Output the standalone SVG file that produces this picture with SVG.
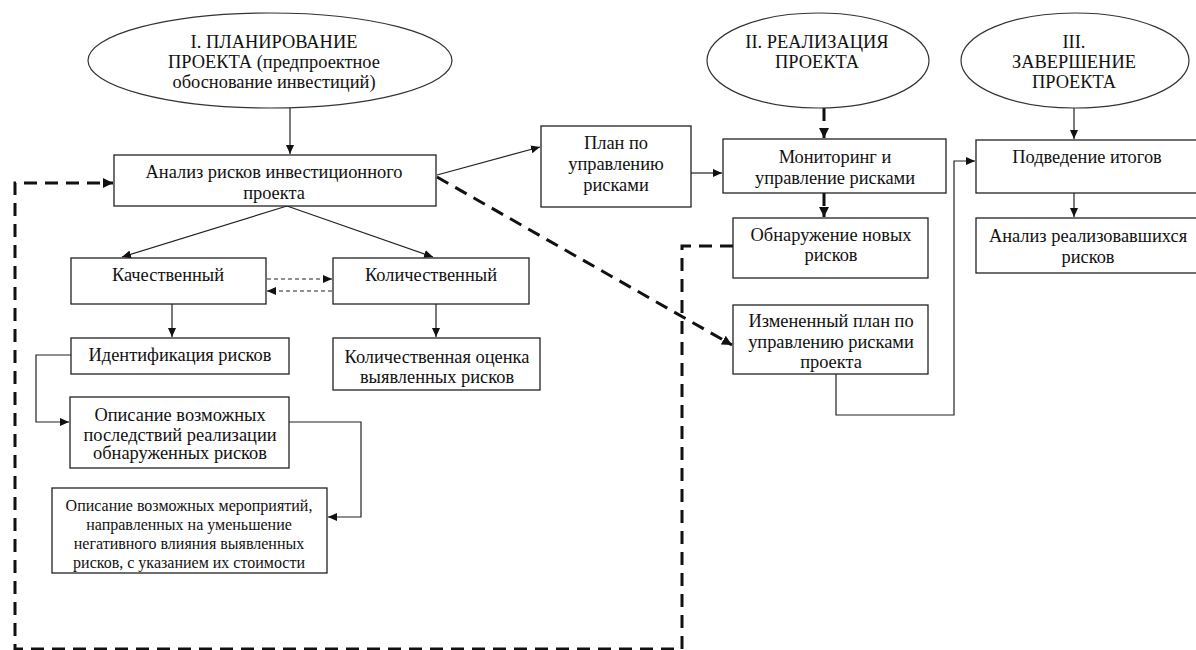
<svg xmlns="http://www.w3.org/2000/svg" width="1196" height="650" viewBox="0 0 1196 650">
<style>
.box{fill:#fff;stroke:#222;stroke-width:1.3}
.ell{fill:#fff;stroke:#333;stroke-width:1.2}
text{font-family:"Liberation Serif","Times New Roman",serif;font-size:18.4px;fill:#111;text-anchor:middle;dominant-baseline:central}
.sm{font-size:16px}
.ln{fill:none;stroke:#222;stroke-width:1.2}
.thin{fill:none;stroke:#222;stroke-width:1.1;stroke-dasharray:4 3}
.thick{fill:none;stroke:#111;stroke-width:3;stroke-dasharray:13 8}
</style>
<defs>
<marker id="a" markerUnits="userSpaceOnUse" markerWidth="10" markerHeight="8" refX="9" refY="4" orient="auto"><path d="M0,0 L9,4 L0,8 z" fill="#111"/></marker>
<marker id="b" markerUnits="userSpaceOnUse" markerWidth="11" markerHeight="10" refX="10" refY="5" orient="auto"><path d="M0,0 L10,5 L0,10 z" fill="#111"/></marker>
</defs>
<rect width="1196" height="650" fill="#fff"/>
<g id="connectors">
<line class="ln" x1="290" y1="108" x2="290" y2="154" marker-end="url(#a)"/>
<line class="ln" x1="287" y1="206" x2="122" y2="257" marker-end="url(#a)"/>
<line class="ln" x1="287" y1="206" x2="433" y2="257" marker-end="url(#a)"/>
<line class="thin" x1="267" y1="279" x2="332" y2="279" marker-end="url(#a)"/>
<line class="thin" x1="332" y1="291" x2="267" y2="291" marker-end="url(#a)"/>
<line class="ln" x1="172" y1="304" x2="172" y2="337" marker-end="url(#a)"/>
<line class="ln" x1="436" y1="304" x2="436" y2="337" marker-end="url(#a)"/>
<polyline class="ln" points="71,355 36,355 36,422 69,422" marker-end="url(#a)"/>
<polyline class="ln" points="289,422 361,422 361,517 328,517" marker-end="url(#a)"/>
<line class="ln" x1="437" y1="175" x2="540" y2="147" marker-end="url(#a)"/>
<line class="ln" x1="691" y1="173" x2="722" y2="173" marker-end="url(#a)"/>
<line class="thick" x1="437" y1="177" x2="732" y2="345" marker-end="url(#b)"/>
<line class="thick" x1="824" y1="108" x2="824" y2="138" marker-end="url(#b)"/>
<line class="thick" x1="824" y1="193" x2="824" y2="217" marker-end="url(#b)"/>
<polyline class="thick" points="733,246 682,246 682,649 15,649 15,183 113,183" marker-end="url(#b)"/>
<polyline class="ln" points="836,374 836,415 954,415 954,161 975,161" marker-end="url(#a)"/>
<line class="ln" x1="1074" y1="108" x2="1074" y2="139" marker-end="url(#a)"/>
<line class="ln" x1="1074" y1="193" x2="1074" y2="217" marker-end="url(#a)"/>
</g>
<g id="n-plan">
<ellipse class="ell" cx="270" cy="60.5" rx="182" ry="47.5"/>
<text x="274" y="42">I. ПЛАНИРОВАНИЕ</text>
<text x="274" y="62">ПРОЕКТА (предпроектное</text>
<text x="274" y="82">обоснование инвестиций)</text>
</g>
<g id="n-real">
<ellipse class="ell" cx="818" cy="60.5" rx="111" ry="47.5"/>
<text x="817" y="42">II. РЕАЛИЗАЦИЯ</text>
<text x="817" y="62">ПРОЕКТА</text>
</g>
<g id="n-zav">
<ellipse class="ell" cx="1075" cy="60.5" rx="114" ry="47.5"/>
<text x="1074" y="42">III.</text>
<text x="1074" y="62">ЗАВЕРШЕНИЕ</text>
<text x="1074" y="82">ПРОЕКТА</text>
</g>
<g id="n-analiz">
<rect class="box" x="114" y="155" width="322" height="51"/>
<text x="274" y="172">Анализ рисков инвестиционного</text>
<text x="274" y="193">проекта</text>
</g>
<g id="n-kach">
<rect class="box" x="71" y="258" width="195" height="46"/>
<text x="168" y="275">Качественный</text>
</g>
<g id="n-kol">
<rect class="box" x="333" y="258" width="196" height="46"/>
<text x="431" y="275">Количественный</text>
</g>
<g id="n-ident">
<rect class="box" x="71" y="338" width="218" height="36"/>
<text x="180" y="355">Идентификация рисков</text>
</g>
<g id="n-ocenka">
<rect class="box" x="333" y="338" width="207" height="52"/>
<text x="437" y="357">Количественная оценка</text>
<text x="437" y="377">выявленных рисков</text>
</g>
<g id="n-posl">
<rect class="box" x="70" y="397" width="219" height="71"/>
<text x="180" y="415">Описание возможных</text>
<text x="180" y="435">последствий реализации</text>
<text x="180" y="453">обнаруженных рисков</text>
</g>
<g id="n-merop">
<rect class="box" x="52" y="488" width="275" height="85"/>
<text class="sm" x="189" y="505">Описание возможных мероприятий,</text>
<text class="sm" x="189" y="524">направленных на уменьшение</text>
<text class="sm" x="189" y="543">негативного влияния выявленных</text>
<text class="sm" x="189" y="562">рисков, с указанием их стоимости</text>
</g>
<g id="n-planupr">
<rect class="box" x="541" y="126" width="150" height="81"/>
<text x="616" y="143">План по</text>
<text x="616" y="164">управлению</text>
<text x="616" y="185">рисками</text>
</g>
<g id="n-monit">
<rect class="box" x="723" y="139" width="223" height="54"/>
<text x="835" y="157">Мониторинг и</text>
<text x="835" y="178">управление рисками</text>
</g>
<g id="n-obnar">
<rect class="box" x="733" y="218" width="195" height="60"/>
<text x="831" y="235">Обнаружение новых</text>
<text x="831" y="255">рисков</text>
</g>
<g id="n-izm">
<rect class="box" x="733" y="305" width="195" height="69"/>
<text x="831" y="321">Измененный план по</text>
<text x="831" y="342">управлению рисками</text>
<text x="831" y="362">проекта</text>
</g>
<g id="n-podv">
<rect class="box" x="976" y="140" width="222" height="53"/>
<text x="1087" y="157">Подведение итогов</text>
</g>
<g id="n-analreal">
<rect class="box" x="976" y="218" width="222" height="55"/>
<text x="1088" y="236">Анализ реализовавшихся</text>
<text x="1088" y="257">рисков</text>
</g>
</svg>
